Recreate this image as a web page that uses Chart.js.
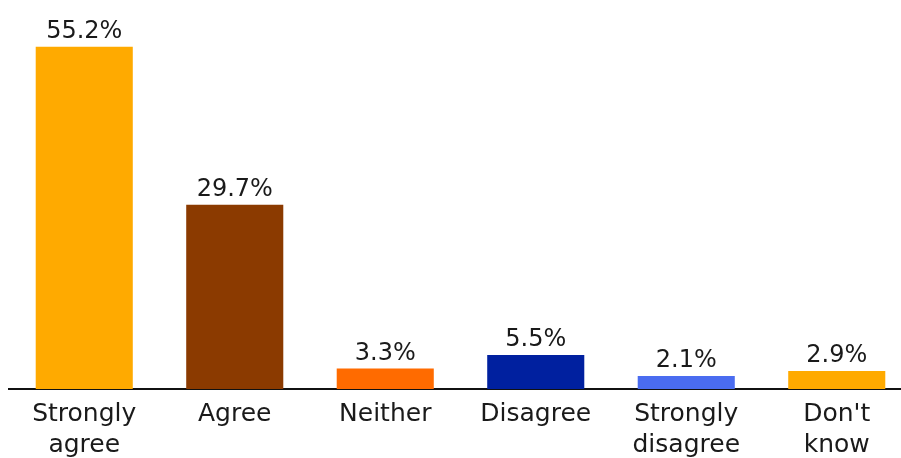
<!DOCTYPE html>
<html>
<head>
<meta charset="utf-8">
<script src="https://cdn.jsdelivr.net/npm/chart.js@4/dist/chart.umd.min.js"></script>
<style>
  html, body { margin: 0; padding: 0; background: #fff; overflow: hidden; }
  #wrap { width: 912px; height: 458px; }
</style>
</head>
<body>
<div id="wrap"><canvas id="chart"></canvas></div>
<script>
// データ
const categories = [['Strongly', 'agree'], 'Agree', 'Neither', 'Disagree', ['Strongly', 'disagree'], ["Don't", 'know']];
const values = [55.2, 29.7, 3.3, 5.5, 2.1, 2.9];
const barColors = ['#FFAA00', '#8B3A00', '#FF6B00', '#00209F', '#4A6CF0', '#FFAA00'];

const FONT = '"DejaVu Sans", sans-serif';

// 棒の上に値を描く
const valueLabels = {
    id: 'valueLabels',
    afterDatasetsDraw(chart) {
        const ctx = chart.ctx;
        const meta = chart.getDatasetMeta(0);
        ctx.save();
        ctx.font = '24px ' + FONT;
        ctx.fillStyle = '#1a1a1a';
        ctx.textAlign = 'center';
        ctx.textBaseline = 'alphabetic';
        meta.data.forEach((bar, i) => {
            ctx.fillText(values[i].toFixed(1) + '%', bar.x, bar.y - 9);
        });
        ctx.restore();
    }
};

new Chart(document.getElementById('chart'), {
    type: 'bar',
    data: {
        labels: categories,
        datasets: [{
            data: values,
            backgroundColor: barColors,
            categoryPercentage: 1,
            barPercentage: 0.645
        }]
    },
    options: {
        responsive: true,
        maintainAspectRatio: false,
        animation: false,
        layout: { padding: { top: 17, left: 9, right: 0, bottom: 0 } },
        scales: {
            x: {
                grid: { display: false, drawTicks: false },
                border: { display: true, color: '#111', width: 2 },
                ticks: {
                    color: '#1a1a1a',
                    font: { family: FONT, size: 25, lineHeight: 1.25 },
                    padding: 10,
                    maxRotation: 0,
                    autoSkip: false
                },
                afterFit: s => { s.height = 69; }
            },
            y: {
                display: false,
                min: 0,
                max: 60
            }
        },
        plugins: {
            legend: { display: false },
            tooltip: { enabled: false }
        }
    },
    plugins: [valueLabels]
});
</script>
</body>
</html>
